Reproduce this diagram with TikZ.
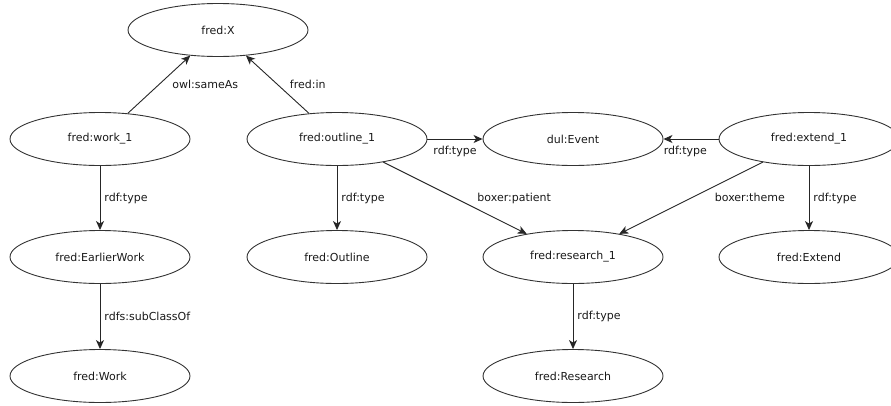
\documentclass[tikz,border=0pt]{standalone}
\usepackage{fontspec}
\setmainfont{DejaVu Sans}
\usetikzlibrary{shapes.geometric,arrows.meta}
\begin{document}
\begin{tikzpicture}[x=1pt,y=-1pt,
  ent/.style={ellipse,draw=black!80,line width=0.9pt,minimum width=180pt,minimum height=53pt,inner sep=0pt,font=\fontsize{11}{13}\selectfont,text=black!90},
  rel/.style={draw=black!85,line width=0.9pt,-{Stealth[length=9pt,width=8pt,inset=2.5pt]}},
  lab/.style={font=\fontsize{11}{13}\selectfont,inner sep=0pt,text=black!90}]
\useasboundingbox (0,0) rectangle (891,405);
% nodes
\node[ent] (X) at (218,30) {fred:X};
\node[ent] (work1) at (100,139) {fred:work\_1};
\node[ent] (outline1) at (337,139) {fred:outline\_1};
\node[ent] (event) at (573,139) {dul:Event};
\node[ent] (extend1) at (809,139) {fred:extend\_1};
\node[ent] (earlier) at (100,257) {fred:EarlierWork};
\node[ent] (outline) at (337,257) {fred:Outline};
\node[ent] (research1) at (573,257) {fred:research\_1};
\node[ent] (extend) at (809,257) {fred:Extend};
\node[ent] (work) at (100,376) {fred:Work};
\node[ent] (research) at (573,376) {fred:Research};
% edges
\draw[rel] (work1) -- node[lab,pos=0.5,anchor=west,xshift=13pt]{owl:sameAs} (X);
\draw[rel] (outline1) -- node[lab,pos=0.5,anchor=west,xshift=12pt]{fred:in} (X);
\draw[rel] (work1) -- node[lab,anchor=west,xshift=4pt]{rdf:type} (earlier);
\draw[rel] (earlier) -- node[lab,anchor=west,xshift=4pt]{rdfs:subClassOf} (work);
\draw[rel] (outline1) -- node[lab,anchor=west,xshift=4pt]{rdf:type} (outline);
\draw[rel] (outline1) -- node[lab,anchor=north,yshift=-6.5pt]{rdf:type} (event);
\draw[rel] (extend1) -- node[lab,pos=1,anchor=north west,yshift=-6.5pt]{rdf:type} (event);
\draw[rel] (outline1) -- node[lab,pos=0.5,anchor=west,xshift=22pt]{boxer:patient} (research1);
\draw[rel] (extend1) -- node[lab,pos=0.49,anchor=west,xshift=22pt]{boxer:theme} (research1);
\draw[rel] (extend1) -- node[lab,anchor=west,xshift=4pt]{rdf:type} (extend);
\draw[rel] (research1) -- node[lab,anchor=west,xshift=4pt]{rdf:type} (research);
\end{tikzpicture}
\end{document}
